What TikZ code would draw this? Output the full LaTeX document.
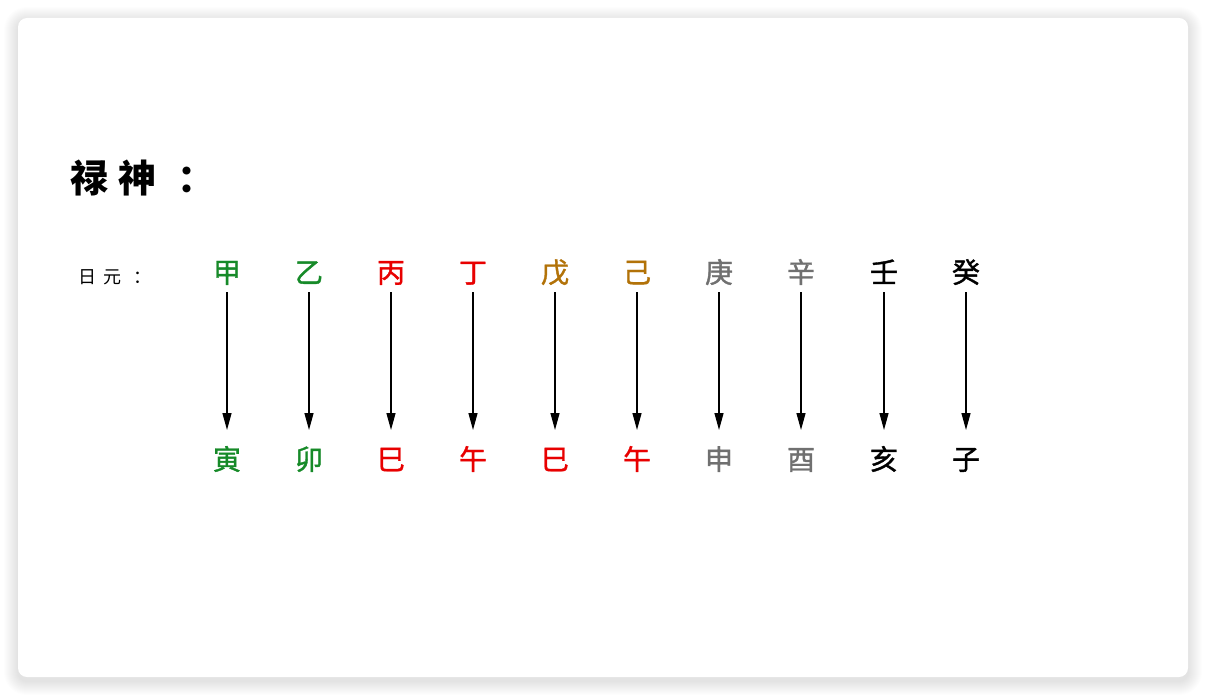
\documentclass[tikz,border=0pt]{standalone}
\usepackage{fontspec}
\usetikzlibrary{arrows.meta}
\newfontfamily\cjk{Noto Sans CJK SC}
\newfontfamily\cjkb[FakeBold=1.3]{Noto Sans CJK SC}
\definecolor{wxgreen}{RGB}{22,138,40}
\definecolor{wxred}{RGB}{232,0,0}
\definecolor{wxgold}{RGB}{178,114,8}
\definecolor{wxgray}{RGB}{112,112,112}
\definecolor{wxblack}{RGB}{0,0,0}
\tikzset{
  stem/.style={font=\cjkb\fontsize{28}{28}\selectfont, inner sep=0pt, anchor=center, text height=0.84em, text depth=0.1em},
  arr/.style={draw=black, line width=1.3pt, -{Triangle[length=17pt,width=9pt]}},
}
\begin{document}
\begin{tikzpicture}[x=1pt,y=-1pt]
\useasboundingbox (0,0) rectangle (1206,695);
\fill[white] (0,0) rectangle (1206,695);
\foreach \i in {1,...,14}{
  \fill[black,opacity=0.007,rounded corners=9pt+\i pt] (18-\i,18-\i+3) rectangle (1188+\i,677+\i+4);
}
\fill[white,rounded corners=9pt] (18,18) rectangle (1188,677);

\node[font=\cjk\bfseries\fontsize{38}{38}\selectfont, inner sep=0pt, anchor=west] (title) at (70,178) {禄\hspace{10pt}神\hspace{21pt}：};
\node[font=\cjk\fontsize{18}{18}\selectfont, inner sep=0pt, anchor=west] (riyuan) at (78,277) {日\hspace{7pt}元\hspace{12pt}：};

\foreach \n/\x/\t/\b/\ct/\cb in {
  1/227/甲/寅/wxgreen/wxgreen,
  2/309/乙/卯/wxgreen/wxgreen,
  3/391/丙/巳/wxred/wxred,
  4/473/丁/午/wxred/wxred,
  5/555/戊/巳/wxgold/wxred,
  6/637/己/午/wxgold/wxred,
  7/719/庚/申/wxgray/wxgray,
  8/801/辛/酉/wxgray/wxgray,
  9/884/壬/亥/wxblack/wxblack,
  10/966/癸/子/wxblack/wxblack}{
  \node[stem, text=\ct] (t\n) at (\x,279) {\t};
  \node[stem, text=\cb] (b\n) at (\x,466) {\b};
  \draw[arr] ([yshift=-13pt]t\n.center) -- ([yshift=36pt]b\n.center);
}
\end{tikzpicture}
\end{document}
